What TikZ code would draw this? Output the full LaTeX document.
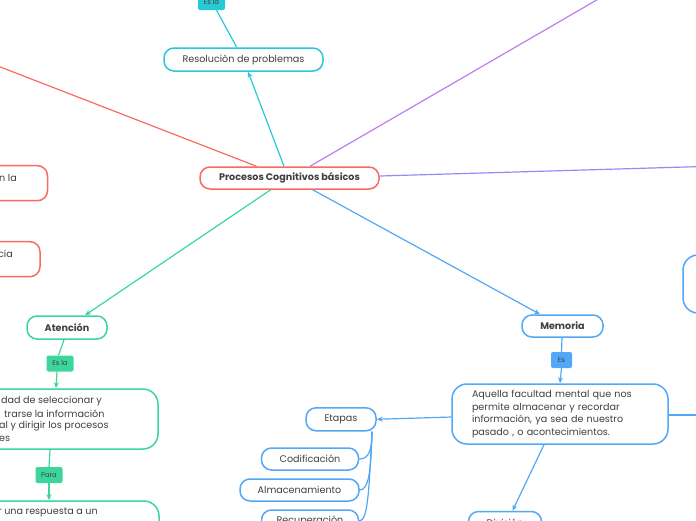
\documentclass[tikz,border=0pt]{standalone}
\usepackage{fontspec}
\setmainfont{Poppins}
\usetikzlibrary{arrows.meta}
\definecolor{cred}{HTML}{F96A62}
\definecolor{ccyan}{HTML}{28C9D5}
\definecolor{cgreen}{HTML}{3CD69C}
\definecolor{cblue}{HTML}{52A8F7}
\definecolor{cpurple}{HTML}{BC7EF0}
\definecolor{cviolet}{HTML}{8E8EF8}
\definecolor{ctext}{HTML}{404040}
\tikzset{
  box/.style={draw, line width=1.5pt, rounded corners=10pt, inner sep=0pt, text=ctext,
    font=\fontsize{9.6}{12.6}\selectfont},
  bigbox/.style={box, rounded corners=15pt},
  lbl/.style={fill, rounded corners=2pt, inner sep=0pt, minimum width=27pt, minimum height=16pt,
    text=ctext, font=\fontsize{6.8}{8}\selectfont},
  frag/.style={inner sep=0pt, text=ctext, font=\fontsize{9.6}{12.6}\selectfont},
  conn/.style={line width=1.2pt},
  arr/.style={conn, -{Stealth[length=6pt,width=5pt]}}
}
\begin{document}
\begin{tikzpicture}[x=1pt,y=-1pt]
\useasboundingbox (0,0) rectangle (696,520);
\fill[white] (0,0) rectangle (696,520);
\clip (0,0) rectangle (696,520);

% central
\node[box, draw=cred, minimum width=179pt, minimum height=22pt] (central) at (289.5,178) {\bfseries Procesos Cognitivos básicos};

% cyan branch
\node[box, draw=ccyan, minimum width=159pt, minimum height=23pt] (resol) at (243.5,59.5) {Resolución de problemas};
\node[lbl, fill=ccyan] (esla1) at (211.5,2) {Es la};
\draw[arr, ccyan] ([xshift=-5.5pt]central.north) -- ([xshift=4.5pt]resol.south);
\draw[conn, ccyan] ([xshift=-6.8pt]resol.north) -- ([xshift=5pt]esla1.south);

% red branch
\coordinate (redend) at (-10,63);
\draw[conn, cred] ([xshift=-33pt]central.north) -- (redend);
\node[box, draw=cred, minimum width=147pt, minimum height=35pt] (red1) at (-26,183.2) {};
\node[frag, anchor=east] (red1t) at (17,178) {n la};
\node[box, draw=cred, minimum width=140pt, minimum height=35pt] (red2) at (-30,259.2) {};
\node[frag, anchor=east] (red2t) at (13,253.5) {cia};

% purple and violet lines
\coordinate (purpend) at (607,-6);
\draw[conn, cpurple] ([xshift=20.5pt]central.north) -- (purpend);
\coordinate (violend) at (706,166.4);
\draw[conn, cviolet] ([yshift=2pt]central.east) -- (violend);

% green branch
\node[box, draw=cgreen, minimum width=80pt, minimum height=23pt] (aten) at (67,327.5) {\bfseries Atención};
\draw[arr, cgreen] ([xshift=-18.8pt]central.south) -- ([xshift=18pt]aten.north);
\node[lbl, fill=cgreen] (esla2) at (60,363.5) {Es la};
\draw[conn, cgreen] ([xshift=-3pt]aten.south) -- ([xshift=-1.5pt]esla2.north);
\node[bigbox, draw=cgreen, minimum width=288pt, minimum height=60pt] (bigg) at (14,419) {};
\draw[arr, cgreen] ([xshift=-3pt]esla2.south) -- ([xshift=42pt]bigg.north);
\node[frag, anchor=west] (gt1) at (1,401) {dad de seleccionar y};
\node[frag, anchor=west] (gt2) at (4,413.7) {trarse la información};
\node[frag, anchor=west] (gt3) at (-1,426.4) {al y dirigir los procesos};
\node[frag, anchor=west] (gt4) at (-1,439.1) {es};
\node[lbl, fill=cgreen] (para) at (49,475) {Para};
\draw[conn, cgreen] ([xshift=36pt]bigg.south) -- (para.north);
\node[bigbox, draw=cgreen, minimum width=289pt, minimum height=60pt] (lastg) at (14.5,531) {};
\draw[arr, cgreen] (para.south) -- ([xshift=34.5pt]lastg.north);
\node[frag, anchor=west] (lastgt) at (-2,512.5) {r una respuesta a un};

% blue branch
\node[box, draw=cblue, minimum width=81pt, minimum height=22pt] (mem) at (562.5,326) {\bfseries Memoria};
\draw[arr, cblue] ([xshift=23.2pt]central.south) -- ([xshift=-22.5pt]mem.north);
\node[lbl, fill=cblue, minimum width=21pt] (es3) at (561.5,360) {Es};
\draw[conn, cblue] ([xshift=-0.5pt]mem.south) -- (es3.north);
\node[bigbox, draw=cblue, minimum width=216pt, minimum height=60pt, text width=176pt, align=left] (bigb) at (560,414) {Aquella facultad mental que nos\\permite almacenar y recordar\\información, ya sea de nuestro\\pasado , o acontecimientos.};
\draw[arr, cblue] (es3.south) -- (bigb.north);
\coordinate (bluerightend) at (700,415);
\draw[conn, cblue] ([yshift=-1pt]bigb.east) -- (bluerightend);

\node[box, draw=cblue, minimum width=70pt, minimum height=23pt] (etapas) at (341,419.3) {Etapas};
\draw[arr, cblue] ([yshift=-3pt]bigb.west) -- (etapas.east);
\node[box, draw=cblue, minimum width=97pt, minimum height=22pt] (codif) at (310,459) {Codificación};
\node[box, draw=cblue, minimum width=119pt, minimum height=22pt] (almac) at (299.5,490) {Almacenamiento};
\node[box, draw=cblue, minimum width=97pt, minimum height=22pt] (recup) at (310,521) {Recuperación};
\draw[conn, cblue] ([xshift=31pt]etapas.south) .. controls (372,452) and (368,459) .. (codif.east);
\draw[conn, cblue] ([xshift=31pt]etapas.south) .. controls (371,470) and (369,490) .. (almac.east);
\draw[conn, cblue] ([xshift=31pt]etapas.south) .. controls (369,490) and (368,521) .. (recup.east);

\node[box, draw=cblue, minimum width=73pt, minimum height=23pt] (divis) at (505,523) {División};
\draw[arr, cblue] ([xshift=-16pt]bigb.south) -- ([xshift=7.5pt]divis.north);

\node[bigbox, draw=cblue, minimum width=100pt, minimum height=58pt] (rightb) at (733,284) {};
\end{tikzpicture}
\end{document}
